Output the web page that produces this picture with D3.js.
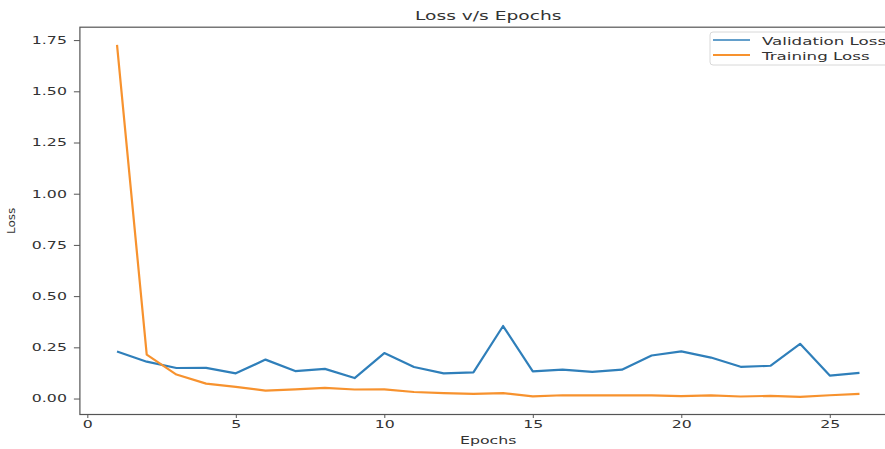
<!DOCTYPE html>
<html>
<head>
<meta charset="utf-8">
<script src="https://cdn.jsdelivr.net/npm/d3@7"></script>
<style>
  html, body { margin: 0; padding: 0; background: #fff; }
  svg { display: block; font-family: "DejaVu Sans", sans-serif; }
</style>
</head>
<body>
<svg id="chart" width="885" height="449"></svg>
<script>
const epochs = [1,2,3,4,5,6,7,8,9,10,11,12,13,14,15,16,17,18,19,20,21,22,23,24,25,26];
const validationLoss = [0.230,0.180,0.149,0.150,0.123,0.190,0.134,0.145,0.100,0.222,0.154,0.123,0.128,0.354,0.133,0.141,0.130,0.141,0.210,0.230,0.200,0.155,0.160,0.267,0.112,0.125];
const trainingLoss = [1.727,0.214,0.117,0.073,0.057,0.039,0.045,0.052,0.044,0.045,0.032,0.026,0.023,0.026,0.011,0.016,0.015,0.015,0.015,0.012,0.015,0.010,0.013,0.008,0.016,0.023];
const xTicks = [0,5,10,15,20,25];
const yTicks = [0,0.25,0.5,0.75,1.0,1.25,1.5,1.75];
const seriesNames = ["Validation Loss", "Training Loss"];
const titleText = "Loss v/s Epochs";
const xLabel = "Epochs";
const yLabel = "Loss";

(function () {
const colors = ["#2f7fba", "#f7922e"];
const SX = 1.5; // horizontal stretch of text seen in the reference
const textColor = "#333";
const spineColor = "#555";

const pLeft = 79.9, pRight = 896.6, pTop = 27.2, pBottom = 414.5;

function padded(min, max) { const m = (max - min) * 0.05; return [min - m, max + m]; }
const xDom = padded(d3.min(epochs), d3.max(epochs));
const allY = validationLoss.concat(trainingLoss);
const yDom = padded(d3.min(allY), d3.max(allY));

const x = d3.scaleLinear().domain(xDom).range([pLeft, pRight]);
const y = d3.scaleLinear().domain(yDom).range([pBottom, pTop]);

const svg = d3.select("#chart");

// Lines
const line = d3.line().x(d => x(d[0])).y(d => y(d[1]));
[validationLoss, trainingLoss].forEach((vals, i) => {
  svg.append("path")
    .datum(epochs.map((e, j) => [e, vals[j]]))
    .attr("fill", "none")
    .attr("stroke", colors[i])
    .attr("stroke-width", 2.2)
    .attr("stroke-linejoin", "round")
    .attr("d", line);
});

// Spines (box)
svg.append("rect")
  .attr("x", pLeft).attr("y", pTop)
  .attr("width", pRight - pLeft).attr("height", pBottom - pTop)
  .attr("fill", "none").attr("stroke", spineColor).attr("stroke-width", 1.2);

// X axis
const xAxis = svg.append("g").attr("transform", `translate(0,${pBottom})`)
  .call(d3.axisBottom(x).tickValues(xTicks).tickFormat(d3.format("d")).tickSize(3.5).tickPadding(3));
xAxis.select(".domain").remove();
xAxis.selectAll(".tick line").attr("stroke", spineColor).attr("stroke-width", 1);
xAxis.selectAll(".tick text")
  .attr("fill", textColor).attr("font-size", 10.5)
  .attr("font-family", "DejaVu Sans, sans-serif")
  .attr("transform", `scale(${SX},1)`);

// Y axis
const yAxis = svg.append("g").attr("transform", `translate(${pLeft},0)`)
  .call(d3.axisLeft(y).tickValues(yTicks).tickFormat(d3.format(".2f")).tickSize(6).tickPadding(3));
yAxis.select(".domain").remove();
yAxis.selectAll(".tick line").attr("stroke", spineColor).attr("stroke-width", 1);
yAxis.selectAll(".tick text")
  .attr("fill", textColor).attr("font-size", 10.5)
  .attr("font-family", "DejaVu Sans, sans-serif")
  .attr("x", -13 / SX)
  .attr("transform", `scale(${SX},1)`);

// Title
svg.append("text")
  .attr("transform", `translate(${(pLeft + pRight) / 2},20) scale(1.62,1)`)
  .attr("text-anchor", "middle").attr("font-size", 11.5).attr("fill", textColor)
  .text(titleText);

// X label
svg.append("text")
  .attr("transform", `translate(${(pLeft + pRight) / 2},444) scale(${SX},1)`)
  .attr("text-anchor", "middle").attr("font-size", 10.5).attr("fill", textColor)
  .text(xLabel);

// Y label
svg.append("text")
  .attr("transform", `translate(15,${(pTop + pBottom) / 2}) rotate(-90) scale(1,0.8)`)
  .attr("text-anchor", "middle").attr("font-size", 12).attr("fill", textColor)
  .text(yLabel);

// Legend
const lg = svg.append("g");
lg.append("rect")
  .attr("x", 710).attr("y", 32).attr("width", 190).attr("height", 33)
  .attr("rx", 3).attr("fill", "#fff").attr("fill-opacity", 0.8)
  .attr("stroke", "#d8d8d8").attr("stroke-width", 1);
seriesNames.forEach((name, i) => {
  const yy = 40 + i * 15;
  lg.append("line")
    .attr("x1", 713).attr("x2", 750).attr("y1", yy).attr("y2", yy)
    .attr("stroke", colors[i]).attr("stroke-width", i === 0 ? 1.5 : 2.2);
  lg.append("text")
    .attr("transform", `translate(762,${yy + 4.5}) scale(1.56,1)`)
    .attr("font-size", 10.7).attr("fill", textColor)
    .text(name);
});
})();
</script>
</body>
</html>
